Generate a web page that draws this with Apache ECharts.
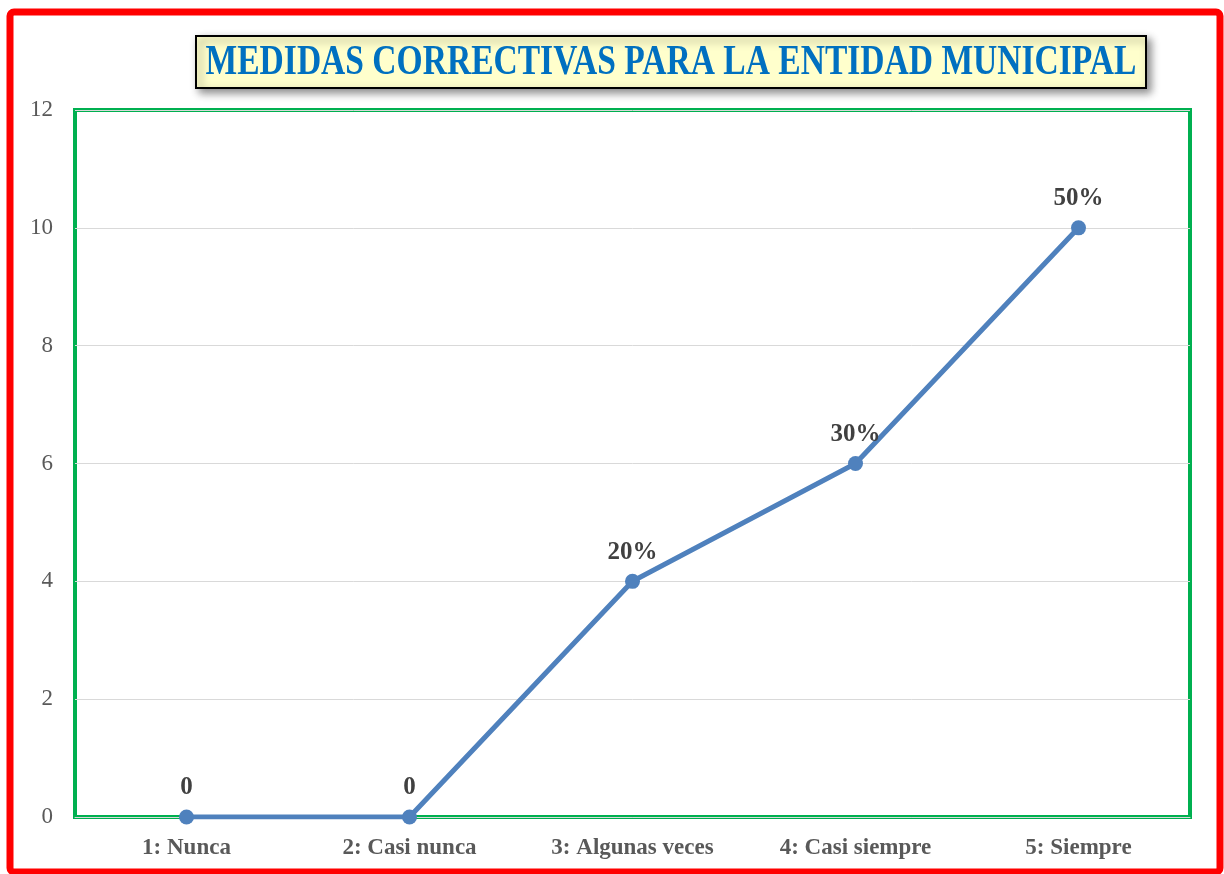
<!DOCTYPE html>
<html>
<head>
<meta charset="utf-8">
<script src="https://cdn.jsdelivr.net/npm/echarts@6/dist/echarts.min.js"></script>
<style>
  html, body { margin: 0; padding: 0; background: #fff; }
  #chart { width: 1224px; height: 874px; }
</style>
</head>
<body>
<div id="chart"></div>
<script>
const categories = ['1: Nunca', '2: Casi nunca', '3: Algunas veces', '4: Casi siempre', '5: Siempre']
const values = [0, 0, 4, 6, 10]
const pointLabels = ['0', '0', '20%', '30%', '50%']
const yTicks = [0, 2, 4, 6, 8, 10, 12]
const titleText = 'MEDIDAS CORRECTIVAS PARA LA ENTIDAD MUNICIPAL'

const serif = 'Liberation Serif'

const chart = echarts.init(document.getElementById('chart'))
const option = {
  backgroundColor: '#fff',
  graphic: [
    // caja del titulo (amarilla con sombra)
    {
      type: 'rect',
      shape: { x: 196, y: 36, width: 950, height: 52 },
      style: {
        fill: '#FFFFCC',
        stroke: '#000',
        lineWidth: 2,
        shadowBlur: 8,
        shadowColor: 'rgba(0,0,0,0.45)',
        shadowOffsetX: 4,
        shadowOffsetY: 4
      },
      silent: true,
      z: 50
    },
    {
      type: 'text',
      x: 671,
      y: 63,
      scaleX: 0.78,
      style: {
        text: titleText,
        fill: '#0070C0',
        font: 'bold 43px "Liberation Serif"',
        textAlign: 'center',
        textVerticalAlign: 'middle'
      },
      silent: true,
      z: 51
    },
    // marco rojo exterior
    {
      type: 'rect',
      shape: { x: 10, y: 12, width: 1210, height: 860, r: 4 },
      style: { fill: 'none', stroke: '#FF0000', lineWidth: 7 },
      silent: true,
      z: 100
    }
  ],
  grid: {
    left: 75,
    right: 34,
    top: 110,
    bottom: 57,
    show: true,
    borderColor: '#00B050',
    borderWidth: 4,
    containLabel: false
  },
  xAxis: {
    type: 'category',
    data: categories,
    boundaryGap: true,
    axisLine: { lineStyle: { color: '#D9D9D9', width: 1 } },
    axisTick: { show: false },
    axisLabel: {
      margin: 20,
      fontFamily: serif,
      fontWeight: 'bold',
      fontSize: 23,
      color: '#595959'
    }
  },
  yAxis: {
    type: 'value',
    min: yTicks[0],
    max: yTicks[yTicks.length - 1],
    interval: 2,
    axisLine: { show: false },
    axisTick: { show: false },
    splitLine: { lineStyle: { color: '#D9D9D9', width: 1 } },
    axisLabel: {
      margin: 22,
      fontFamily: serif,
      fontSize: 23,
      color: '#595959'
    }
  },
  series: [
    {
      type: 'line',
      data: values,
      symbol: 'circle',
      symbolSize: 15,
      lineStyle: { color: '#4F81BD', width: 5 },
      itemStyle: { color: '#4F81BD' },
      label: {
        show: true,
        position: 'top',
        distance: 9,
        formatter: p => pointLabels[p.dataIndex],
        fontFamily: serif,
        fontWeight: 'bold',
        fontSize: 25,
        color: '#404040'
      },
      z: 3
    }
  ]
}
chart.setOption(option)
</script>
</body>
</html>
